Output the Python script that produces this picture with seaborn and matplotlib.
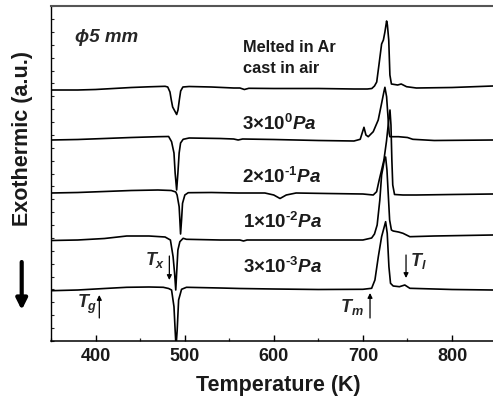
import numpy as np
import pandas as pd
import matplotlib
matplotlib.use("Agg")
import matplotlib.pyplot as plt
from matplotlib.ticker import MultipleLocator, FixedLocator
import seaborn as sns

# ---------------- data ----------------
# temperature in K, signal in arbitrary units (offset traces)
trace_air = [(350, 251), (380, 251), (400, 251.5), (420, 252.5), (440, 253.5), (460, 254.2),
             (478, 254.7), (481, 254), (483.5, 249), (485, 241), (486.5, 234), (488, 231.5),
             (489.5, 229), (491, 226.5), (492.5, 231), (494, 241), (495.5, 250), (498, 254),
             (505, 254.5), (530, 254), (555, 253), (562, 253), (567, 251.5), (572, 252.7),
             (600, 252.5), (650, 252.5), (690, 252), (705, 252), (710, 252.5), (713, 255),
             (715.5, 259), (718, 276), (721, 297), (723, 301), (724.7, 309), (726.6, 320),
             (727.5, 316), (729, 301), (730.3, 266), (732, 257), (739, 256), (743, 257),
             (749, 254.3), (760, 253), (800, 253.5), (846, 255)]

trace_3e0 = [(350, 201), (380, 201.5), (410, 202.5), (440, 203.5), (470, 204.3), (482, 204.5),
             (485.3, 199.3), (488, 188), (489.3, 168), (491, 151), (492.4, 168), (493.8, 188),
             (495.4, 198), (498.3, 201.7), (505, 203), (540, 202.5), (555, 202), (560, 201),
             (565, 202), (600, 201.5), (650, 200.5), (690, 200), (697, 201.7), (701.2, 213.7),
             (703.4, 206), (706, 204.3), (711.6, 209.3), (717.2, 221), (721, 237.7),
             (723.6, 249.3), (724.7, 253.7), (726.6, 244.3), (728.4, 221), (729.5, 207.7),
             (730.3, 204.3), (740, 204.3), (750, 203.5), (756, 201.7), (780, 200.5), (846, 201)]

trace_2em1 = [(350, 148), (380, 148.5), (410, 149.5), (440, 150.5), (470, 151), (485, 150.5),
              (490, 149), (491.5, 146), (493.8, 134.3), (494.6, 121), (495.4, 107), (496.5, 121),
              (497.6, 137.7), (500.2, 146), (504, 148.3), (530, 148.5), (560, 148), (590, 148),
              (600, 146), (607, 142.5), (614, 146), (625, 148), (660, 147.5), (700, 147),
              (711.6, 146), (715.4, 149.3), (718.3, 161), (721, 171), (723.6, 181), (726.5, 200),
              (729, 221), (730.4, 231), (731.5, 216), (732.5, 181), (733.5, 156), (735.5, 146.5),
              (745, 146), (760, 146), (800, 146.5), (846, 147)]

trace_1em2 = [(350, 100.5), (380, 101), (410, 102.5), (435, 105), (460, 105), (478, 104),
              (484, 101), (487, 84.3), (488.7, 67.7), (490, 51), (491, 68), (492.4, 91),
              (494.6, 99.3), (498.3, 102.7), (502, 101.7), (540, 101), (562, 101), (566, 100),
              (570, 101), (600, 101), (650, 101), (700, 101), (709.8, 103), (713, 107), (716, 116),
              (719, 141), (721, 166), (722.5, 173), (724, 181), (725.5, 184), (727, 171),
              (728.5, 146), (730, 121), (732, 111), (734, 110), (740, 109), (745, 107.7),
              (752.7, 104.3), (780, 105), (846, 106)]

trace_3em3 = [(350, 50.3), (380, 51), (410, 52.5), (435, 53.7), (460, 54), (476, 53.7),
              (482, 52.5), (485.3, 51), (488, 34.3), (489.3, 11), (490.3, -6), (491.6, 11),
              (493.2, 41), (496.5, 51.7), (502, 53.7), (540, 53), (562, 52.5), (600, 52),
              (650, 51.5), (700, 51.7), (709.8, 52.7), (713.5, 61), (717.3, 84.3), (721, 104.3),
              (725.5, 119.3), (727.3, 107.7), (729.2, 74.3), (731, 57.7), (734, 55), (741, 54.3),
              (747, 56), (752.7, 52.7), (800, 51.5), (846, 51)]

sample_names = ["Melted in Ar, cast in air", "3e0 Pa", "2e-1 Pa", "1e-2 Pa", "3e-3 Pa"]
traces = [trace_air, trace_3e0, trace_2em1, trace_1em2, trace_3em3]

pressure_labels = [r"$3×10^{0}Pa$", r"$2×10^{‐1}Pa$",
                   r"$1×10^{‐2}Pa$", r"$3×10^{‐3}Pa$"]
pressure_label_pos = [(564.5, 211), (564.5, 158), (565.5, 112.7), (565.5, 67.7)]

x_ticks = [400, 500, 600, 700, 800]

rows = []
for name, tr in zip(sample_names, traces):
    for t, s in tr:
        rows.append({"T": t, "signal": s, "sample": name})
df = pd.DataFrame(rows)

# ---------------- style ----------------
sns.set_style("ticks")
plt.rcParams["font.family"] = ["Liberation Sans", "DejaVu Sans"]
plt.rcParams["font.weight"] = "bold"
plt.rcParams["mathtext.fontset"] = "custom"
plt.rcParams["mathtext.rm"] = "Liberation Sans:bold"
plt.rcParams["mathtext.it"] = "Liberation Sans:italic:bold"
plt.rcParams["mathtext.sf"] = "Liberation Sans:italic"

fig = plt.figure(figsize=(4.93, 4.01), dpi=100)
ax = fig.add_axes([51 / 493, 60 / 401, 442 / 493, 335 / 401])

sns.lineplot(data=df, x="T", y="signal", units="sample", estimator=None, sort=False,
             color="black", lw=1.2, ax=ax, legend=False)

ax.set_xlim(350, 846)
ax.set_ylim(0, 335)

# spines
ax.spines["right"].set_visible(False)
ax.spines["top"].set_color("#555555")
ax.spines["top"].set_linewidth(1.5)
ax.spines["left"].set_linewidth(1.0)
ax.spines["bottom"].set_linewidth(1.1)
for s in ["left", "bottom"]:
    ax.spines[s].set_color("black")

# ticks
ax.xaxis.set_major_locator(FixedLocator(x_ticks))
ax.xaxis.set_minor_locator(MultipleLocator(50))
ax.yaxis.set_major_locator(FixedLocator(np.arange(0, 336, 12.88)))
ax.tick_params(axis="x", which="major", direction="in", length=4, width=1.0,
               labelsize=13, pad=5, top=False, colors="black")
ax.tick_params(axis="x", which="minor", direction="in", length=2.2, width=0.9, top=False)
ax.tick_params(axis="y", which="major", direction="in", length=2.2, width=0.8,
               labelleft=False, right=False)
for lab in ax.get_xticklabels():
    lab.set_fontweight("bold")
    lab.set_color("#1a1a1a")

ax.set_xlabel("Temperature (K)", fontsize=15.5, fontweight="bold", color="#1a1a1a")
ax.xaxis.set_label_coords((278 - 51) / 442, (341 - 385) / 335)
ax.xaxis.label.set_va("center")
ax.set_ylabel("")
fig.text(23 / 493, 1 - 139 / 401, "Exothermic (a.u.)", rotation=90, ha="center", va="center",
         fontsize=15.5, fontweight="bold", color="#1a1a1a")

# annotations
ax.text(377, 303, "ϕ5 mm", fontsize=13.5, fontweight="bold", fontstyle="italic",
        ha="left", va="center", family=["Liberation Sans", "DejaVu Sans"])
ax.text(565.5, 293.5, "Melted in Ar", fontsize=11.8, fontweight="bold", ha="left", va="center",
        color="#1a1a1a")
ax.text(565.5, 272.5, "cast in air", fontsize=11.8, fontweight="bold", ha="left", va="center",
        color="#1a1a1a")
for lab, (tx, ty) in zip(pressure_labels, pressure_label_pos):
    ax.text(tx, ty, lab, fontsize=13.5, ha="left", va="baseline", color="#1a1a1a")

ax.text(455.5, 76, r"$T_x$", fontsize=13, ha="left", va="baseline")
ax.text(379.2, 33, r"$T_g$", fontsize=13, ha="left", va="baseline")
ax.text(674.4, 29, r"$\mathsf{T_m}$", fontsize=13, ha="left", va="baseline")
ax.text(752.9, 75, r"$\mathsf{T_l}$", fontsize=13, ha="left", va="baseline")

arrow_kw = dict(arrowstyle="-|>", color="black", lw=0.9, mutation_scale=7,
                shrinkA=0, shrinkB=0)
ax.annotate("", xy=(482.8, 61), xytext=(482.8, 85), arrowprops=arrow_kw)
ax.annotate("", xy=(404.2, 46), xytext=(404.2, 23), arrowprops=arrow_kw)
ax.annotate("", xy=(708, 48), xytext=(708, 23), arrowprops=arrow_kw)
ax.annotate("", xy=(748.4, 63), xytext=(748.4, 86), arrowprops=arrow_kw)

# big arrow at the left (exothermic direction)
fig.patches.append(matplotlib.patches.FancyArrowPatch(
    (21.7 / 493, 1 - 262 / 401), (21.7 / 493, 1 - 310 / 401),
    transform=fig.transFigure, arrowstyle="-|>", mutation_scale=16, lw=3,
    color="black", shrinkA=0, shrinkB=0))

fig.savefig("out.png", dpi=100)
